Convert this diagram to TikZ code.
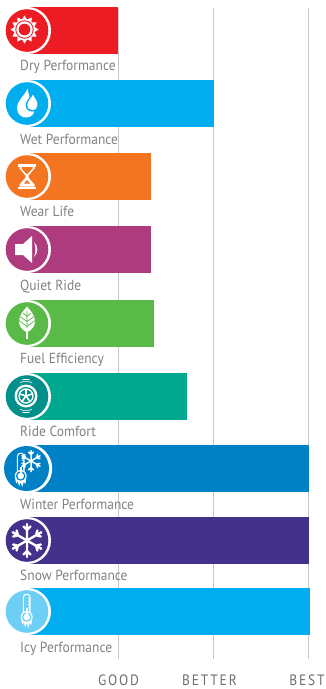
\documentclass[tikz,border=0pt]{standalone}
\usepackage{fontspec}
\setmainfont{Carlito}
\newfontfamily\lblfont[FakeStretch=0.925]{PT Sans}
\newfontfamily\axfont[FakeStretch=0.9]{PT Sans}
\definecolor{labelgrey}{HTML}{808285}
\definecolor{axisgrey}{HTML}{6D6E71}
\definecolor{gridgrey}{HTML}{C8C8C8}
\definecolor{cred}{HTML}{ED1C24}
\definecolor{cblue}{HTML}{00AEEF}
\definecolor{corange}{HTML}{F47521}
\definecolor{cpurple}{HTML}{AE3B7E}
\definecolor{cgreen}{HTML}{5ABA47}
\definecolor{cteal}{HTML}{00A88F}
\definecolor{cdteal}{HTML}{008F8A}
\definecolor{cwinter}{HTML}{0081C6}
\definecolor{csnow}{HTML}{43318C}
\definecolor{cice}{HTML}{6DCFF6}
\tikzset{
  gridline/.style={draw=gridgrey,line width=1.2pt},
  rowlabel/.style={anchor=base west,inner sep=0pt,text=labelgrey,font=\lblfont\fontsize{14.6}{16}\selectfont},
  axislabel/.style={anchor=base,inner sep=0pt,text=axisgrey,font=\axfont\fontsize{15}{16}\selectfont\addfontfeature{LetterSpace=12}}
}
\newcommand{\flake}[4]{%
  \foreach \a in {0,60,...,300}{%
    \draw[white,line width=#2pt,rotate=\a] (0,0) -- (0,-#1)
      (0,-#4) -- (-#3,-#4-#3) (0,-#4) -- (#3,-#4-#3);
  }}
\newcommand{\thermo}[3]{%
  \begin{scope}[shift={(#1,#2)}]
    \fill[white] (-3.8,3) -- (-3.8,-15) .. controls (-3.8,-19.5) and (3.8,-19.5) .. (3.8,-15) -- (3.8,3) -- cycle;
    \fill[#3] (-2.5,3) -- (-2.5,-15) .. controls (-2.5,-17.7) and (2.5,-17.7) .. (2.5,-15) -- (2.5,3) -- cycle;
    \fill[white] (0,5) circle[radius=6];
    \fill[#3] (0,5) circle[radius=4.8];
    \fill[white] (-1,-4) rectangle (1,5);
    \fill[white] (0,5) circle[radius=3.3];
    \foreach \t in {-14,-11,-8,-5}{\draw[white,line width=.8pt] (1,\t) -- (2.5,\t);}
    \fill[white] (-5.5,8) -- (-4.5,12.5) -- (-3,10.5) -- (-1.5,15) -- (0,11) -- (1.5,16) -- (3,11) -- (4.6,13) -- (5.5,8) -- (0,10) -- cycle;
  \end{scope}}
\newcommand{\barrow}[6]{%
  \fill[#3] (27,#1) rectangle (#2,#1+47);
  \fill[white] (27.5,#1+23.5) circle[radius=#5+2.2];
  \fill[#4] (#6,#1+23.5) circle[radius=#5];
}
\begin{document}
\begin{tikzpicture}[x=1pt,y=-1pt]
\useasboundingbox (0,0) rectangle (326,689);
\fill[white] (0,0) rectangle (326,689);
\draw[gridline] (118.5,8) -- (118.5,659);
\draw[gridline] (213.5,8) -- (213.5,659);
\draw[gridline] (308.5,8) -- (308.5,659);

\barrow{7}{118}{cred}{cred}{21.3}{27}
\barrow{80}{214}{cblue}{cblue}{21.3}{27}
\barrow{153}{151}{corange}{corange}{21.3}{27}
\barrow{226}{151}{cpurple}{cpurple}{21.3}{27}
\barrow{300}{154}{cgreen}{cgreen}{21.3}{27}
\barrow{373}{187}{cteal}{cdteal}{21.3}{27}
\barrow{445}{309}{cwinter}{cwinter}{22.5}{26.5}
\barrow{517}{309}{csnow}{csnow}{21.3}{27}
\barrow{588}{310}{cblue}{cice}{21.3}{27}

% sun
\begin{scope}[shift={(24.5,29.5)}]
  \fill[white] (14,0) \foreach \a in {15,30,...,345}{ -- ({(mod(\a,30)==0 ? 14 : 10.2)*cos(\a)},{(mod(\a,30)==0 ? 14 : 10.2)*sin(\a)})} -- cycle;
  \fill[cred] (0,0) circle[radius=9.2];
  \fill[white] (0,0) circle[radius=8.2];
  \fill[cred] (0,0) circle[radius=5.8];
\end{scope}

% drops
\begin{scope}[shift={(27,103.5)}]
  \fill[white] (0.5,-15) .. controls (-2,-8) and (-10,-3) .. (-10,5)
     .. controls (-10,11) and (-5,14) .. (-1,14)
     .. controls (5,14) and (8,10) .. (7,5)
     .. controls (3,-2) and (2,-8) .. (0.5,-15) -- cycle;
  \fill[cblue] (6,-11.5) .. controls (5,-7) and (-1.3,-4) .. (-1.3,1.5)
     .. controls (-1.3,6) and (2,8) .. (5,8)
     .. controls (9,8) and (12,6) .. (12,1.5)
     .. controls (12,-4) and (7,-7) .. (6,-11.5) -- cycle;
  \fill[white] (6,-9) .. controls (5,-6) and (0.3,-3) .. (0.3,1.5)
     .. controls (0.3,5) and (2.5,6.5) .. (5.3,6.5)
     .. controls (8.5,6.5) and (10.5,4.5) .. (10.5,1.5)
     .. controls (10.5,-3) and (7,-6) .. (6,-9) -- cycle;
\end{scope}

% hourglass
\begin{scope}[shift={(27,176.5)}]
  \fill[white] (-9,-12.5) rectangle (9,-10);
  \fill[white] (-9,10) rectangle (9,12.5);
  \fill[white] (-7.5,-10) -- (7.5,-10) -- (7.5,-8) -- (1.5,-1) -- (1.5,1) -- (7.5,8) -- (7.5,10) -- (-7.5,10) -- (-7.5,8) -- (-1.5,1) -- (-1.5,-1) -- (-7.5,-8) -- cycle;
  \fill[corange] (-5.5,-9.5) -- (5.5,-9.5) -- (5.5,-8) -- (0,-2) -- (-5.5,-8) -- cycle;
  \fill[corange] (-3.2,7) -- (3.2,7) -- (0,3.6) -- cycle;
\end{scope}

% speaker
\begin{scope}[shift={(27,249.5)}]
  \fill[white] (-12,-5.5) -- (-4,-5.5) -- (5,-13.5) -- (5,13.5) -- (-4,5.5) -- (-12,5.5) -- cycle;
  \fill[white] (7,-7.5) .. controls (11.5,-3) and (11.5,3) .. (7,7.5)
     .. controls (9,3) and (9,-3) .. (7,-7.5) -- cycle;
\end{scope}

% leaf
\begin{scope}[shift={(27,323.5)}]
  \fill[white] (0,-17) .. controls (3,-13) and (8,-9) .. (8,-2)
    .. controls (8,3) and (5,6) .. (0,9)
    .. controls (-5,6) and (-8,3) .. (-8,-2)
    .. controls (-8,-9) and (-3,-13) .. (0,-17) -- cycle;
  \draw[cgreen,line width=.7pt] (0,-13) -- (0,9) (0,-7) -- (-4,-10.5) (0,-7) -- (4,-10.5)
     (0,-2) -- (-7,-7) (0,-2) -- (7,-7) (0,3) -- (-8,-3) (0,3) -- (8,-3);
  \draw[white,line width=1.4pt] (0,4) -- (0,15.5);
\end{scope}

% tyre
\begin{scope}[shift={(26,396)}]
  \fill[white] (0,0) circle[radius=11.5];
  \fill[cdteal] (0,0) circle[radius=9];
  \draw[white,line width=1.3pt] (0,0) circle[radius=7];
  \fill[white] (0,0) circle[radius=1.8];
  \foreach \a in {0,72,...,288}{\draw[white,line width=1.6pt,rotate=\a] (0,0) -- (0,-7);}
  \draw[white,line width=.7pt] (-6,-13.5) .. controls (-3,-14.7) and (3,-14.7) .. (6,-13.5)
      (-6,13.5) .. controls (-3,14.7) and (3,14.7) .. (6,13.5)
      (-4,-16) .. controls (-2,-16.8) and (2,-16.8) .. (4,-16)
      (-4,16) .. controls (-2,16.8) and (2,16.8) .. (4,16);
\end{scope}

% winter
\thermo{20.7}{471}{cwinter}
\begin{scope}[shift={(31,461)},line cap=round]
  \flake{10.5}{1.5}{2.4}{6.5}
\end{scope}

% snow
\begin{scope}[shift={(27,540.5)},line cap=round]
  \flake{16.5}{2.4}{3.5}{10.5}
\end{scope}

% icy
\thermo{26.7}{612}{cice}

\node[rowlabel] (dry) at (20,70) {Dry Performance};
\node[rowlabel] (wet) at (20,144) {Wet Performance};
\node[rowlabel] (wear) at (20,216) {Wear Life};
\node[rowlabel] (quiet) at (20,290) {Quiet Ride};
\node[rowlabel] (fuel) at (20,363) {Fuel Efficiency};
\node[rowlabel] (ride) at (20,436) {Ride Comfort};
\node[rowlabel] (winter) at (20,509) {Winter Performance};
\node[rowlabel] (snow) at (20,580) {Snow Performance};
\node[rowlabel] (icy) at (20,652) {Icy Performance};

\node[axislabel] (good) at (118.5,685) {GOOD};
\node[axislabel] (better) at (209.5,685) {BETTER};
\node[axislabel] (best) at (307,685) {BEST};
\end{tikzpicture}
\end{document}
